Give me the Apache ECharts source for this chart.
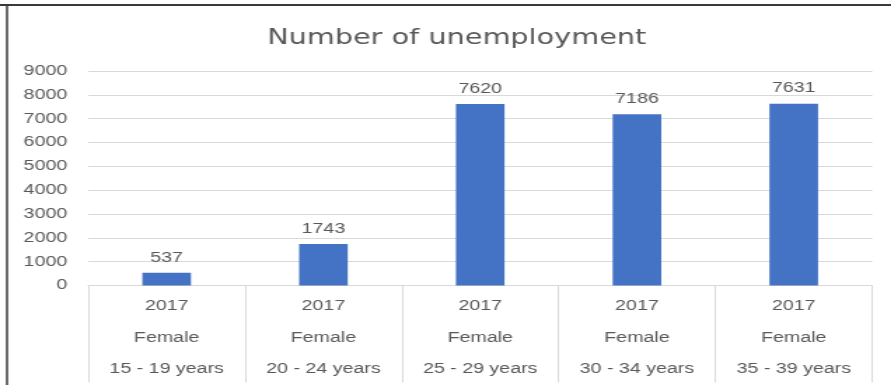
<!DOCTYPE html>
<html>
<head>
<meta charset="utf-8">
<script src="https://cdn.jsdelivr.net/npm/echarts@6/dist/echarts.min.js"></script>
<style>
  html, body { margin: 0; padding: 0; background: #ffffff; overflow: hidden; }
  #wrap { width: 891px; height: 385px; overflow: hidden; }
  /* chart drawn on a narrower canvas and widened to the page */
  #chart { width: 636px; height: 385px; transform: scaleX(1.401); transform-origin: 0 0; }
</style>
</head>
<body>
<div id="wrap"><div id="chart"></div></div>
<script>
const years = ['2017', '2017', '2017', '2017', '2017'];
const genders = ['Female', 'Female', 'Female', 'Female', 'Female'];
const ageGroups = ['15 - 19 years', '20 - 24 years', '25 - 29 years', '30 - 34 years', '35 - 39 years'];
const unemployed = [537, 1743, 7620, 7186, 7631];
const yTicks = { min: 0, max: 9000, interval: 1000 };

const categories = years.map((y, i) => y + '\n' + genders[i] + '\n' + ageGroups[i]);

const textGrey = '#595959';
const lineGrey = '#d9d9d9';

const chart = echarts.init(document.getElementById('chart'), null, { renderer: 'canvas' });
chart.setOption({
  animation: false,
  backgroundColor: '#ffffff',
  title: {
    text: 'Number of unemployment',
    left: 321,
    top: 23,
    textAlign: 'center',
    textStyle: { fontFamily: 'DejaVu Sans', fontSize: 20.5, fontWeight: 'normal', color: textGrey }
  },
  graphic: [
    { type: 'line', shape: { x1: 0, y1: 5, x2: 636, y2: 5 }, style: { stroke: '#3a3a3a', lineWidth: 2 } },
    { type: 'line', shape: { x1: 5, y1: 4, x2: 5, y2: 385 }, style: { stroke: '#3a3a3a', lineWidth: 1.5 } }
  ],
  grid: { left: 63, right: 13.5, top: 71, bottom: 99, containLabel: false },
  xAxis: {
    type: 'category',
    data: categories,
    boundaryGap: true,
    axisLine: { show: true, lineStyle: { color: lineGrey, width: 1 } },
    axisTick: { show: true, length: 97, lineStyle: { color: lineGrey, width: 1 } },
    axisLabel: {
      interval: 0,
      margin: 5,
      lineHeight: 31.5,
      fontFamily: 'Liberation Sans',
      fontSize: 14,
      color: textGrey
    }
  },
  yAxis: {
    type: 'value',
    min: yTicks.min,
    max: yTicks.max,
    interval: yTicks.interval,
    axisLine: { show: false },
    axisTick: { show: false },
    splitLine: { show: true, lineStyle: { color: lineGrey, width: 1 } },
    axisLabel: {
      margin: 15,
      fontFamily: 'Liberation Sans',
      fontSize: 14,
      color: textGrey,
      formatter: (v) => String(v)
    }
  },
  series: [{
    type: 'bar',
    data: unemployed,
    barWidth: '31%',
    itemStyle: { color: '#4472c4' },
    label: {
      show: true,
      position: 'top',
      distance: 8,
      fontFamily: 'Liberation Sans',
      fontSize: 14,
      color: textGrey
    }
  }]
});
</script>
</body>
</html>
